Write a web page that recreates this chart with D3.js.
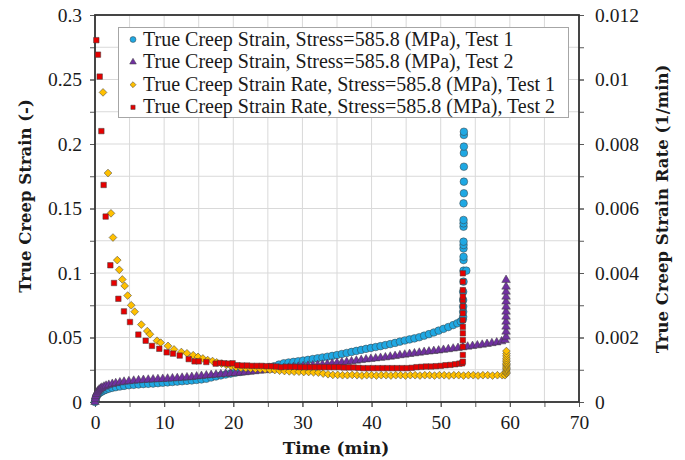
<!DOCTYPE html>
<html>
<head>
<meta charset="utf-8">
<script src="https://cdn.jsdelivr.net/npm/d3@7"></script>
<style>
  html, body { margin: 0; padding: 0; background: #fff; }
  svg { display: block; }
</style>
</head>
<body>
<div id="chart"></div>
<script>
// ============================================================
// Data
// ============================================================

// tick labels
const xTicks = [0, 10, 20, 30, 40, 50, 60, 70];
const yLeftTicks = [0, 0.05, 0.1, 0.15, 0.2, 0.25, 0.3];
const yRightTicks = [0, 0.002, 0.004, 0.006, 0.008, 0.01, 0.012];

const seriesNames = [
  'True Creep Strain, Stress=585.8 (MPa), Test 1',
  'True Creep Strain, Stress=585.8 (MPa), Test 2',
  'True Creep Strain Rate, Stress=585.8 (MPa), Test 1',
  'True Creep Strain Rate, Stress=585.8 (MPa), Test 2'
];

// [time (min), true creep strain (-)]  -> left axis
const strainTest1 = [
  [0,0],[0.05,0.0015],[0.1,0.0028],[0.2,0.0042],[0.3,0.0052],[0.45,0.0062],[0.6,0.0070],[0.8,0.0076],
  [1.0,0.0082],[1.3,0.0090],[1.6,0.0096],[2.0,0.0103],[2.5,0.0110],[3.0,0.0115],[3.6,0.0120],[4.2,0.0125],
  [4.9,0.0130],[5.6,0.0133],[6.3,0.0136],[7.0,0.0139],[7.7,0.0141],[8.4,0.0143],[9.1,0.0146],[9.8,0.0149],
  [10.5,0.0152],[11.2,0.0155],[11.9,0.0158],[12.6,0.0161],[13.3,0.0164],[14.0,0.0167],[14.7,0.0171],[15.4,0.0175],
  [16.1,0.0180],[16.8,0.0190],[17.5,0.0198],[18.2,0.0206],[18.9,0.0213],[19.6,0.0220],[20.3,0.0227],[21.0,0.0233],
  [21.7,0.0239],[22.4,0.0245],[23.1,0.0251],[23.8,0.0257],[24.5,0.0265],[25.2,0.0271],[25.9,0.0277],[26.6,0.0290],
  [27.3,0.0300],[28.0,0.0306],[28.7,0.0311],[29.4,0.0316],[30.1,0.0321],[30.8,0.0327],[31.5,0.0333],[32.2,0.0339],
  [32.9,0.0345],[33.6,0.0351],[34.3,0.0357],[35.0,0.0364],[35.7,0.0372],[36.4,0.0380],[37.1,0.0388],[37.8,0.0396],
  [38.5,0.0404],[39.2,0.0412],[39.9,0.0419],[40.6,0.0426],[41.3,0.0433],[42.0,0.0441],[42.7,0.0449],[43.4,0.0458],
  [44.1,0.0468],[44.8,0.0477],[45.5,0.0485],[46.2,0.0493],[46.9,0.0502],[47.6,0.0514],[48.3,0.0526],[49.0,0.0539],
  [49.7,0.0553],[50.4,0.0567],[51.1,0.0581],[51.8,0.0596],[52.4,0.0610],[52.9,0.0625],[53.2,0.0640],
  [53.25,0.066],[53.25,0.070],[53.25,0.074],[53.25,0.079],[53.25,0.0855],[53.3,0.0933],[53.3,0.1018],[53.7,0.1018],
  [53.3,0.110],[53.3,0.1126],[53.3,0.119],[53.3,0.1217],[53.3,0.1243],[53.3,0.1359],[53.3,0.1385],[53.3,0.1411],
  [53.3,0.154],[53.35,0.1618],[53.35,0.1708],[53.35,0.1824],[53.35,0.193],[53.35,0.198],[53.35,0.207],[53.35,0.2095]
];

const strainTest2 = [
  [0,0],[0.05,0.0025],[0.1,0.0045],[0.2,0.0062],[0.3,0.0075],[0.45,0.0087],[0.6,0.0096],[0.8,0.0104],
  [1.0,0.0111],[1.3,0.0119],[1.6,0.0126],[2.0,0.0133],[2.5,0.0140],[3.0,0.0146],[3.6,0.0152],[4.2,0.0157],
  [4.9,0.0161],[5.6,0.0165],[6.3,0.0168],[7.0,0.0171],[7.7,0.0173],[8.4,0.0175],[9.1,0.0177],[9.8,0.0179],
  [10.5,0.0181],[11.2,0.0183],[11.9,0.0185],[12.6,0.0188],[13.3,0.0191],[14.0,0.0194],[14.7,0.0198],[15.4,0.0202],
  [16.1,0.0206],[16.8,0.0209],[17.5,0.0212],[18.2,0.0215],[18.9,0.0218],[19.6,0.0221],[20.3,0.0224],[21.0,0.0227],
  [21.7,0.0230],[22.4,0.0234],[23.1,0.0238],[23.8,0.0242],[24.5,0.0246],[25.2,0.0250],[25.9,0.0254],[26.6,0.0258],
  [27.3,0.0262],[28.0,0.0266],[28.7,0.0270],[29.4,0.0274],[30.1,0.0278],[30.8,0.0281],[31.5,0.0284],[32.2,0.0287],
  [32.9,0.0290],[33.6,0.0294],[34.3,0.0299],[35.0,0.0303],[35.7,0.0307],[36.4,0.0311],[37.1,0.0315],[37.8,0.0320],
  [38.5,0.0325],[39.2,0.0330],[39.9,0.0334],[40.6,0.0338],[41.3,0.0342],[42.0,0.0346],[42.7,0.0351],[43.4,0.0356],
  [44.1,0.0362],[44.8,0.0367],[45.5,0.0372],[46.2,0.0377],[46.9,0.0382],[47.6,0.0387],[48.3,0.0391],[49.0,0.0395],
  [49.7,0.0399],[50.4,0.0404],[51.1,0.0409],[51.8,0.0414],[52.5,0.0419],[53.2,0.0424],[53.9,0.0429],[54.6,0.0434],
  [55.3,0.0439],[56.0,0.0444],[56.7,0.0450],[57.4,0.0456],[58.1,0.0462],[58.8,0.0470],[59.3,0.0480],
  [59.45,0.0506],[59.45,0.0545],[59.45,0.0584],[59.45,0.0622],[59.45,0.0661],[59.45,0.0700],[59.45,0.0739],
  [59.45,0.0778],[59.45,0.0816],[59.45,0.0855],[59.45,0.0894],[59.45,0.0946]
];

// [time (min), true creep strain rate (1/min)]  -> right axis
const rateTest1 = [
  [1.16,0.0096],[1.88,0.0071],[2.31,0.00585],[2.6,0.0051],[3.22,0.0044],[3.51,0.0041],[3.95,0.0038],[4.29,0.0036],
  [4.72,0.0033],[5.24,0.0030],[5.74,0.0028],[6.7,0.0024],[7.56,0.0022],[7.95,0.0021],[8.97,0.0019],[9.5,0.00184],
  [10.56,0.00174],[11.43,0.00163],[12.49,0.00155],[13.3,0.00151],[14.2,0.00145],[14.9,0.0014],[15.6,0.00135],[16.3,0.0013],
  [17.0,0.00127],[17.6,0.00123],[18.3,0.00119],[19.0,0.00115],[19.7,0.00111],[20.4,0.00108],[21.1,0.00106],[21.8,0.00105],
  [22.5,0.00104],[23.2,0.00103],[23.9,0.00102],[24.6,0.00101],[25.3,0.00100],[26.0,0.00099],[26.7,0.00097],[27.4,0.00096],
  [28.1,0.00095],[28.8,0.00094],[29.5,0.00094],[30.2,0.00093],[30.9,0.00093],[31.6,0.00092],[32.3,0.00091],[33.0,0.00088],
  [33.7,0.00086],[34.4,0.00084],[35.1,0.00084],[35.8,0.00083],[36.5,0.00083],[37.2,0.00084],[37.9,0.00083],[38.6,0.00082],
  [39.3,0.00083],[40.0,0.00083],[40.7,0.00082],[41.4,0.00083],[42.1,0.00083],[42.8,0.00082],[43.5,0.00083],[44.2,0.00083],
  [44.9,0.00082],[45.6,0.00083],[46.3,0.00083],[47.0,0.00082],[47.7,0.00083],[48.4,0.00083],[49.1,0.00082],[49.8,0.00083],
  [50.5,0.00083],[51.2,0.00082],[51.9,0.00083],[52.6,0.00083],[53.3,0.00082],[54.0,0.00083],[54.7,0.00083],[55.4,0.00082],
  [56.1,0.00083],[56.8,0.00083],[57.5,0.00082],[58.2,0.00083],[58.9,0.00083],[59.3,0.00083],
  [59.5,0.00088],[59.5,0.00092],[59.5,0.00096],[59.5,0.0010],[59.5,0.00104],[59.5,0.00108],[59.5,0.00112],[59.5,0.00116],
  [59.5,0.0012],[59.5,0.00125],[59.5,0.0013],[59.5,0.00136],[59.5,0.00143],[59.5,0.0015],[59.5,0.00158]
];

const rateTest2 = [
  [0.19,0.01122],[0.43,0.01077],[0.68,0.01009],[0.92,0.0084],[1.25,0.00673],[1.54,0.00575],[2.22,0.00424],[2.75,0.00369],
  [3.38,0.0032],[4.19,0.00281],[5.06,0.00248],[6.27,0.00209],[7.33,0.0019],[8.24,0.00174],[9.3,0.00165],[10.37,0.00154],
  [11.28,0.0015],[12.25,0.00144],[13.55,0.00133],[14.4,0.00126],[15.0,0.00126],[16.1,0.00124],[17.45,0.00119],[18.1,0.00121],
  [18.7,0.0012],[19.3,0.00119],[19.9,0.0012],[20.6,0.00114],[21.3,0.00113],[22.0,0.00113],[22.7,0.00112],[23.4,0.00112],
  [24.1,0.00112],[24.8,0.00111],[25.5,0.00111],[26.2,0.0011],[26.9,0.00108],[27.6,0.00109],[28.3,0.00109],[29.0,0.00109],
  [29.7,0.00108],[30.4,0.00108],[31.1,0.00108],[31.8,0.00108],[32.5,0.00108],[33.2,0.00108],[33.9,0.00108],[34.6,0.00108],
  [35.3,0.00108],[36.0,0.00107],[36.7,0.00107],[37.4,0.00107],[38.1,0.00106],[38.8,0.00105],[39.5,0.00105],[40.2,0.00105],
  [40.9,0.00105],[41.6,0.00105],[42.3,0.00105],[43.0,0.00105],[43.7,0.00105],[44.4,0.00105],[45.1,0.00105],[45.8,0.00106],
  [46.5,0.00108],[47.2,0.00109],[47.9,0.0011],[48.6,0.0011],[49.3,0.00111],[50.0,0.00112],[50.7,0.00114],[51.4,0.00115],
  [52.1,0.00117],[52.7,0.00119],[53.1,0.0012],
  [53.2,0.00125],[53.2,0.00146],[53.2,0.00171],[53.2,0.00192],[53.2,0.00213],[53.2,0.00233],[53.2,0.00254],
  [53.2,0.00275],[53.2,0.00296],[53.2,0.00316],[53.2,0.00327],[53.2,0.00347],[53.2,0.00373],[53.2,0.00399]
];

// ============================================================
// Chart
// ============================================================

const WIDTH = 685, HEIGHT = 460;
const plot = { left: 95, right: 579, top: 15, bottom: 402 };
const SERIF = '"Liberation Serif", "Times New Roman", serif';
const TITLE_FONT = '"DejaVu Serif", serif';

const svg = d3.select('#chart')
  .append('svg')
  .attr('width', WIDTH)
  .attr('height', HEIGHT);

const x = d3.scaleLinear().domain([0, 70]).range([plot.left, plot.right]);
const yL = d3.scaleLinear().domain([0, 0.3]).range([plot.bottom, plot.top]);
const yR = d3.scaleLinear().domain([0, 0.012]).range([plot.bottom, plot.top]);

// gridlines every 5 min and every 0.025 (half of each major step)
const xGrid = d3.range(0, 70.001, 5);
const yGrid = d3.range(0, 12.001, 1).map(i => i * 0.025);

const grid = svg.append('g').attr('class', 'grid');
grid.selectAll('.vgrid')
  .data(xGrid)
  .join('line')
  .attr('x1', d => x(d)).attr('x2', d => x(d))
  .attr('y1', plot.top).attr('y2', plot.bottom)
  .attr('stroke', '#d9d9d9').attr('stroke-width', 1);
grid.selectAll('.hgrid')
  .data(yGrid)
  .join('line')
  .attr('x1', plot.left).attr('x2', plot.right)
  .attr('y1', d => yL(d)).attr('y2', d => yL(d))
  .attr('stroke', '#d9d9d9').attr('stroke-width', 1);

// axes
function styleAxis(g) {
  g.select('.domain').remove();
  g.selectAll('.tick line').attr('stroke', '#595959').attr('stroke-width', 1);
  g.selectAll('.tick text')
    .attr('font-family', SERIF)
    .attr('font-size', 19.5)
    .attr('fill', '#1a1a1a');
}

const fmtLeft = d => d === 0 ? '0' : d3.format('.2~f')(d);
const fmtRight = d => d === 0 ? '0' : d3.format('.3~f')(d);

// minor ticks (no labels)
svg.append('g')
  .attr('transform', `translate(${plot.left},0)`)
  .call(d3.axisLeft(yL).tickValues(yGrid).tickSize(5).tickFormat(''))
  .call(styleAxis);
svg.append('g')
  .attr('transform', `translate(0,${plot.bottom})`)
  .call(d3.axisBottom(x).tickValues(xGrid).tickSize(5).tickFormat(''))
  .call(styleAxis);
svg.append('g')
  .attr('transform', `translate(${plot.right},0)`)
  .call(d3.axisRight(yR).tickValues(d3.range(0, 12.001, 1).map(i => i * 0.001)).tickSize(5).tickFormat(''))
  .call(styleAxis);

// labelled ticks
svg.append('g')
  .attr('transform', `translate(${plot.left},0)`)
  .call(d3.axisLeft(yL).tickValues(yLeftTicks).tickSize(5).tickPadding(8).tickFormat(fmtLeft))
  .call(styleAxis);
svg.append('g')
  .attr('transform', `translate(0,${plot.bottom})`)
  .call(d3.axisBottom(x).tickValues(xTicks).tickSize(5).tickPadding(8).tickFormat(d3.format('d')))
  .call(styleAxis);
svg.append('g')
  .attr('transform', `translate(${plot.right},0)`)
  .call(d3.axisRight(yR).tickValues(yRightTicks).tickSize(5).tickPadding(11).tickFormat(fmtRight))
  .call(styleAxis);

// plot border
svg.append('rect')
  .attr('x', plot.left).attr('y', plot.top)
  .attr('width', plot.right - plot.left)
  .attr('height', plot.bottom - plot.top)
  .attr('fill', 'none')
  .attr('stroke', '#333')
  .attr('stroke-width', 1.8);

// axis titles
svg.append('text')
  .attr('x', (plot.left + plot.right) / 2 - 1)
  .attr('y', 454)
  .attr('text-anchor', 'middle')
  .attr('font-family', TITLE_FONT)
  .attr('font-weight', 'bold')
  .attr('font-size', 17)
  .attr('fill', '#1a1a1a')
  .text('Time (min)');

svg.append('text')
  .attr('transform', 'translate(31,196) rotate(-90)')
  .attr('text-anchor', 'middle')
  .attr('font-family', TITLE_FONT)
  .attr('font-weight', 'bold')
  .attr('font-size', 16.5)
  .attr('fill', '#1a1a1a')
  .text('True Creep Strain (-)');

svg.append('text')
  .attr('transform', 'translate(668,209) rotate(-90)')
  .attr('text-anchor', 'middle')
  .attr('font-family', TITLE_FONT)
  .attr('font-weight', 'bold')
  .attr('font-size', 16.5)
  .attr('fill', '#1a1a1a')
  .text('True Creep Strain Rate (1/min)');

// series styles: blue circles, purple triangles, yellow diamonds, red squares
const styles = [
  { fill: '#1FA8E3', type: d3.symbolCircle,   size: 46, rotate: 0 },
  { fill: '#7030A0', type: d3.symbolTriangle, size: 32, rotate: 0 },
  { fill: '#FFC000', type: d3.symbolSquare,   size: 30, rotate: 45 },
  { fill: '#E60000', type: d3.symbolSquare,   size: 30, rotate: 0 }
];

const series = [
  { data: strainTest1, y: yL },
  { data: strainTest2, y: yL },
  { data: rateTest1,   y: yR },
  { data: rateTest2,   y: yR }
];

series.forEach((s, i) => {
  const st = styles[i];
  svg.append('g')
    .selectAll('path')
    .data(s.data)
    .join('path')
    .attr('d', d3.symbol().type(st.type).size(st.size))
    .attr('transform', d => `translate(${x(d[0])},${s.y(d[1])}) rotate(${st.rotate})`)
    .attr('fill', st.fill)
    .attr('stroke', '#3d3d3d')
    .attr('stroke-width', 0.5);
});

// legend
const legend = svg.append('g').attr('class', 'legend');
legend.append('rect')
  .attr('x', 118.5).attr('y', 27.5)
  .attr('width', 450).attr('height', 90)
  .attr('fill', '#fff')
  .attr('stroke', '#a6a6a6')
  .attr('stroke-width', 1);

const rows = legend.selectAll('.row')
  .data(seriesNames)
  .join('g')
  .attr('class', 'row')
  .attr('transform', (d, i) => `translate(0,${45.5 + i * 22.6})`);

rows.append('path')
  .attr('d', (d, i) => d3.symbol().type(styles[i].type).size(styles[i].size * 0.6)())
  .attr('transform', (d, i) => `translate(133,-6) rotate(${styles[i].rotate})`)
  .attr('fill', (d, i) => styles[i].fill)
  .attr('stroke', '#3d3d3d')
  .attr('stroke-width', 0.5);

rows.append('text')
  .attr('x', 143)
  .attr('y', 0)
  .attr('font-family', SERIF)
  .attr('font-size', 20)
  .attr('fill', '#1a1a1a')
  .text(d => d);
</script>
</body>
</html>
